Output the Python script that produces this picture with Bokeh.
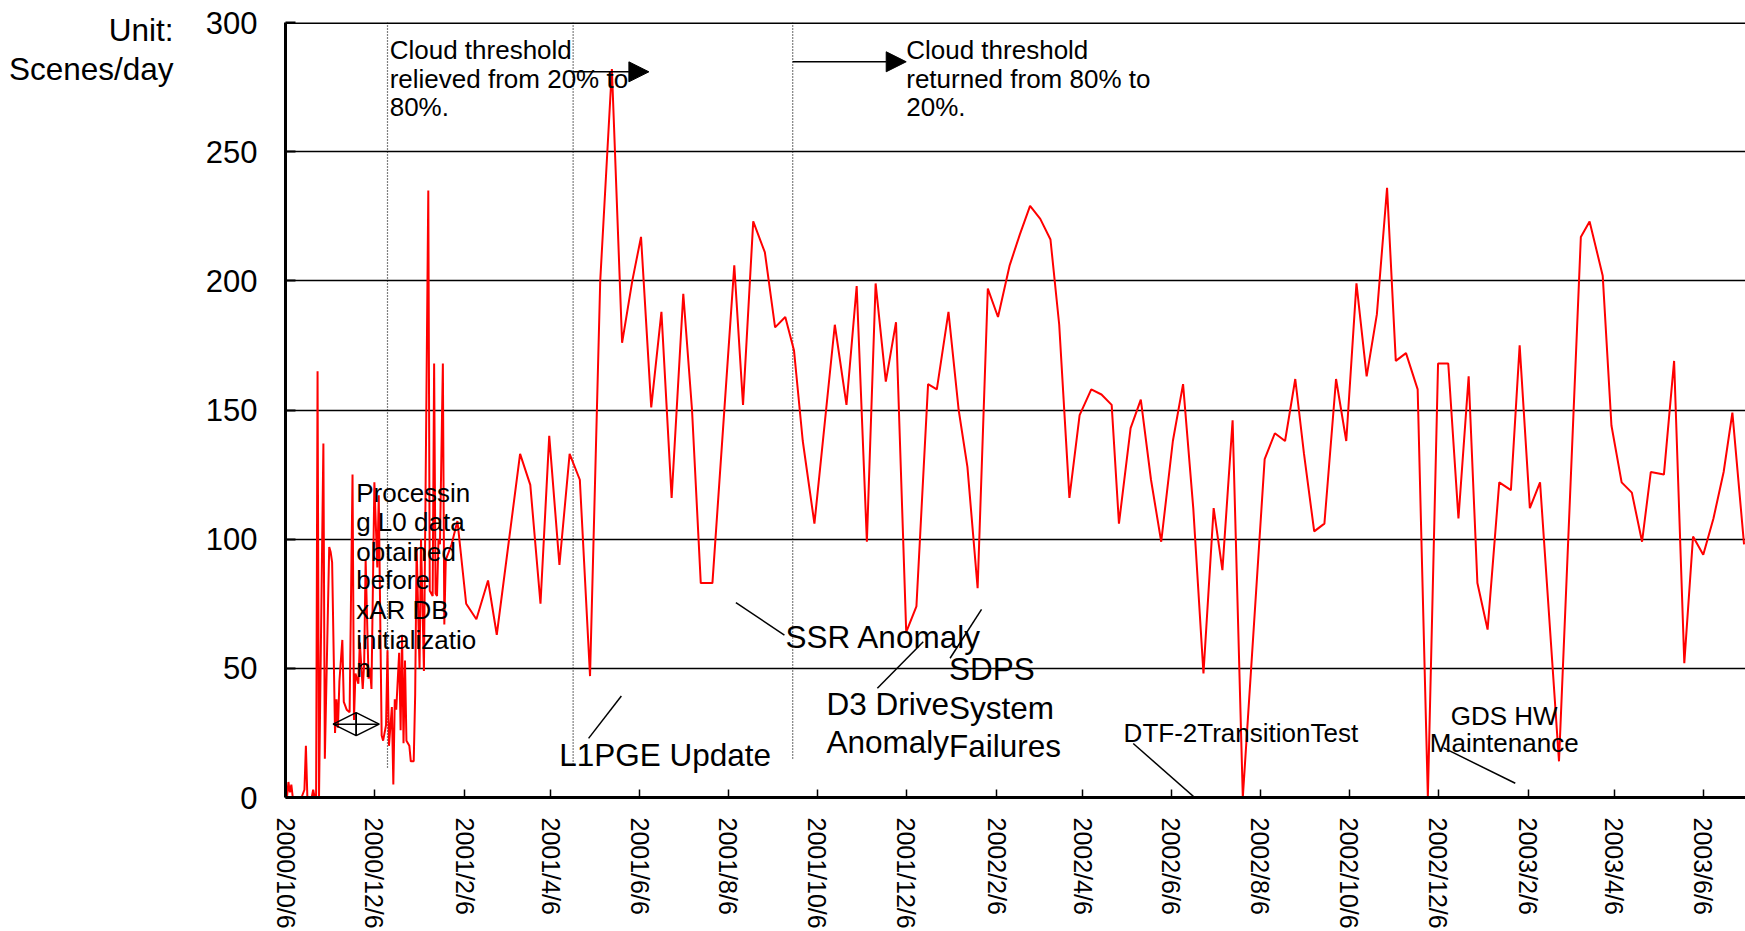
import pandas as pd
from datetime import datetime
from bokeh.plotting import figure
from bokeh.models import Range1d, FixedTicker, Span, Arrow, NormalHead, Label, LinearAxis
from bokeh.embed import file_html
from bokeh.resources import INLINE

# ---------------- data ----------------
START = datetime(2000, 10, 6)          # x values are days since 2000/10/6

day = [0, 1, 2, 3, 4, 5, 8, 11, 13, 14, 15, 18, 19, 20, 21, 22, 23, 26, 27, 30,
       31, 32, 34, 35, 36, 37, 39, 40, 42, 44, 46, 47, 48, 50, 51, 53, 54, 55, 57, 58,
       59, 61, 63, 64, 66, 67, 69, 70, 71, 73, 74, 75, 76, 78, 79, 80, 81, 82, 83, 85,
       86, 88, 89, 90, 92, 93, 95, 98, 99, 101, 102, 103, 104, 105, 106, 108, 109, 110, 112, 114,
       118, 124, 131, 139, 145,
       161, 168, 175, 181, 188, 195, 202, 209, 216, 224, 231, 238, 244, 251, 258, 265, 273, 279,
       285, 293, 308, 314, 321, 329, 336, 343, 349, 355, 363, 377, 385, 392, 399, 405, 412, 419,
       426, 433, 441, 447, 455, 462, 468, 475, 482, 489, 497, 504, 511, 518, 525, 531, 538, 545,
       553, 560, 567, 572, 580, 587, 594, 601, 609, 616, 623, 630, 637, 643, 650, 657, 672, 679,
       686, 693, 699, 706, 713, 721, 728, 735, 742, 749, 756, 762, 769, 777, 784, 791, 798, 805,
       812, 818, 825, 833, 841, 847, 854, 861, 874, 889, 895, 904, 910, 917, 924, 931, 937, 946,
       953, 960, 966, 973, 980, 987, 993, 1001]

scenes = [2, 0, 6, 2, 5, 0, 0, 0, 3, 20, 0, 0, 3, 0, 0, 165, 0, 137, 15, 97,
          95, 91, 25, 38, 27, 45, 61, 37, 34, 33, 125, 30, 48, 44, 60, 42, 52, 92, 46, 50,
          42, 122, 89, 117, 24, 22, 28, 57, 20, 35, 5, 38, 34, 56, 26, 63, 21, 53, 22, 20,
          14, 14, 40, 97, 50, 100, 49, 235, 80, 78, 168, 79, 78, 100, 98, 168, 67, 92, 95, 98,
          107, 75, 69, 84, 63,
          133, 121, 75, 140, 90, 133, 123, 47, 200, 282, 176, 200, 217, 151, 188, 116, 195, 150,
          83, 83, 206, 152, 223, 211, 182, 186, 173, 138, 106, 183, 152, 198, 99, 199, 161, 184,
          64, 74, 160, 158, 188, 150, 128, 81, 197, 186, 206, 218, 229, 224, 216, 183, 116, 148,
          158, 156, 152, 106, 143, 154, 123, 99, 138, 160, 112, 48, 112, 88, 146, 0, 131, 141,
          138, 162, 133, 103, 106, 162, 138, 199, 163, 187, 236, 169, 172, 158, 0, 168, 168, 108,
          163, 83, 65, 122, 119, 175, 112, 122, 14, 217, 223, 202, 144, 122, 118, 99, 126, 125,
          169, 52, 101, 94, 108, 126, 149, 98]

tick_labels = ["2000/10/6", "2000/12/6", "2001/2/6", "2001/4/6", "2001/6/6", "2001/8/6",
               "2001/10/6", "2001/12/6", "2002/2/6", "2002/4/6", "2002/6/6", "2002/8/6",
               "2002/10/6", "2002/12/6", "2003/2/6", "2003/4/6", "2003/6/6"]
y_ticks = [0, 50, 100, 150, 200, 250, 300]
unit_text = ["Unit:", "Scenes/day"]

# ---------------- derived ----------------
tick_days = [(datetime.strptime(s, "%Y/%m/%d") - START).days for s in tick_labels]

FONT = "Liberation Sans"

p = figure(width=1745, height=931, title=None, output_backend="svg", toolbar_location=None,
           x_range=Range1d(0, 1002.0), y_range=Range1d(0, 300),
           min_border_left=285, min_border_right=0, min_border_top=22, min_border_bottom=133)
p.outline_line_color = None
p.background_fill_color = "white"
p.border_fill_color = "white"
p.xgrid.visible = False

# y axis & grid
p.yaxis.ticker = FixedTicker(ticks=y_ticks)
p.yaxis.major_label_text_font = FONT
p.yaxis.major_label_text_font_size = "31px"
p.yaxis.major_label_text_color = "black"
p.yaxis.major_label_standoff = 28
p.yaxis.major_tick_in = 10
p.yaxis.major_tick_out = 0
p.yaxis.major_tick_line_width = 2
p.yaxis.minor_tick_line_color = None
p.yaxis.axis_line_width = 3
p.yaxis.axis_line_color = "black"
p.ygrid.ticker = FixedTicker(ticks=y_ticks)
p.ygrid.grid_line_color = "black"
p.ygrid.grid_line_width = 1.5

# unit caption, as an outer left axis carrying two text labels
unit_pos = [297, 282]
unit_axis = LinearAxis(ticker=FixedTicker(ticks=unit_pos),
                       major_label_overrides={k: t for k, t in zip(unit_pos, unit_text)},
                       major_label_text_font=FONT, major_label_text_font_size="31.5px",
                       major_label_text_color="black", major_label_standoff=29,
                       axis_line_color=None, major_tick_line_color=None,
                       minor_tick_line_color=None, major_tick_in=0, major_tick_out=0)
p.add_layout(unit_axis, "left")

# x axis
p.xaxis.ticker = FixedTicker(ticks=tick_days)
p.xaxis.major_label_overrides = {d: s for d, s in zip(tick_days, tick_labels)}
p.xaxis.major_label_orientation = "vertical"
p.xaxis.major_label_text_font = FONT
p.xaxis.major_label_text_font_size = "25px"
p.xaxis.major_label_text_color = "black"
p.xaxis.major_label_standoff = 20
p.xaxis.major_tick_in = 8
p.xaxis.major_tick_out = 0
p.xaxis.major_tick_line_width = 1.5
p.xaxis.minor_tick_line_color = None
p.xaxis.axis_line_width = 3
p.xaxis.axis_line_color = "black"

# top border
p.add_layout(Span(location=300, dimension="width", line_color="black", line_width=3))

# dotted event lines (cloud threshold changes / L1PGE update)
ev_x = [70.0, 197.4, 348.1]
ev_bottom = [11.3, 12.6, 14.5]
p.segment(x0=ev_x, y0=[300] * 3, x1=ev_x, y1=ev_bottom, line_color="black",
          line_width=1.2, line_dash="1 2")

# data line
p.line(day, scenes, line_color="red", line_width=2)

# arrows
p.add_layout(Arrow(end=NormalHead(size=20, fill_color="black", line_color="black"),
                   x_start=197.4, y_start=280.9, x_end=249.4, y_end=280.9,
                   line_color="black", line_width=1.5))
p.add_layout(Arrow(end=NormalHead(size=20, fill_color="black", line_color="black"),
                   x_start=348.1, y_start=284.8, x_end=426.0, y_end=284.8,
                   line_color="black", line_width=1.5))
# double-headed arrow (processing period)
p.segment(x0=[32.7], y0=[28.4], x1=[64.3], y1=[28.4], line_color="black", line_width=1.5)
p.add_layout(Arrow(start=NormalHead(size=23, fill_color=None, line_color="black", line_width=1.5),
                   end=NormalHead(size=23, fill_color=None, line_color="black", line_width=1.5),
                   x_start=32.7, y_start=28.4, x_end=64.3, y_end=28.4,
                   line_color="black", line_width=1.5))

# leader lines
leaders = [((309.1, 75.4), (342.4, 62.9)),     # SSR Anomaly
           ((208.0, 22.9), (230.5, 39.3)),     # L1PGE Update
           ((406.2, 42.3), (437.7, 60.3)),     # D3 Drive Anomaly
           ((456.1, 53.9), (477.7, 72.8)),     # SDPS System Failures
           ((581.8, 20.9), (644.3, -10.1)),    # DTF-2TransitionTest
           ((794.8, 19.2), (844.0, 5.5))]      # GDS HW Maintenance
for (xa, ya), (xb, yb) in leaders:
    p.add_layout(Arrow(start=None, end=None, x_start=xa, y_start=ya, x_end=xb, y_end=yb,
                       line_color="black", line_width=1.5))

# texts: (text, x, y, size, align)
S, L = "26px", "31.5px"
texts = [
    ("Cloud threshold", 71.5, 289.2, S, "left"),
    ("relieved from 20% to", 71.5, 278.3, S, "left"),
    ("80%.", 71.5, 267.3, S, "left"),
    ("Cloud threshold", 426.0, 289.2, S, "left"),
    ("returned from 80% to", 426.0, 278.3, S, "left"),
    ("20%.", 426.0, 267.3, S, "left"),
    ("Processin", 48.5, 117.9, S, "left"),
    ("g L0 data", 48.5, 106.5, S, "left"),
    ("obtained", 48.5, 95.2, S, "left"),
    ("before", 48.5, 84.2, S, "left"),
    ("xAR DB", 48.5, 72.5, S, "left"),
    ("initializatio", 48.5, 61.1, S, "left"),
    ("n", 48.5, 50.1, S, "left"),
    ("SSR Anomaly", 343.2, 62.1, L, "left"),
    ("L1PGE Update", 187.8, 16.4, L, "left"),
    ("D3 Drive", 371.3, 36.3, L, "left"),
    ("Anomaly", 371.3, 21.6, L, "left"),
    ("SDPS", 455.4, 49.6, L, "left"),
    ("System", 455.4, 34.8, L, "left"),
    ("Failures", 455.4, 19.9, L, "left"),
    ("DTF-2TransitionTest", 575.2, 25.0, S, "left"),
    ("GDS HW", 836.4, 31.7, S, "center"),
    ("Maintenance", 836.4, 21.1, S, "center"),
]
for t, x, y, size, align in texts:
    p.add_layout(Label(x=x, y=y, text=t, text_font=FONT, text_font_size=size,
                       text_align=align, text_baseline="alphabetic", text_color="black"))

open("out.html", "w").write(file_html(p, INLINE))
